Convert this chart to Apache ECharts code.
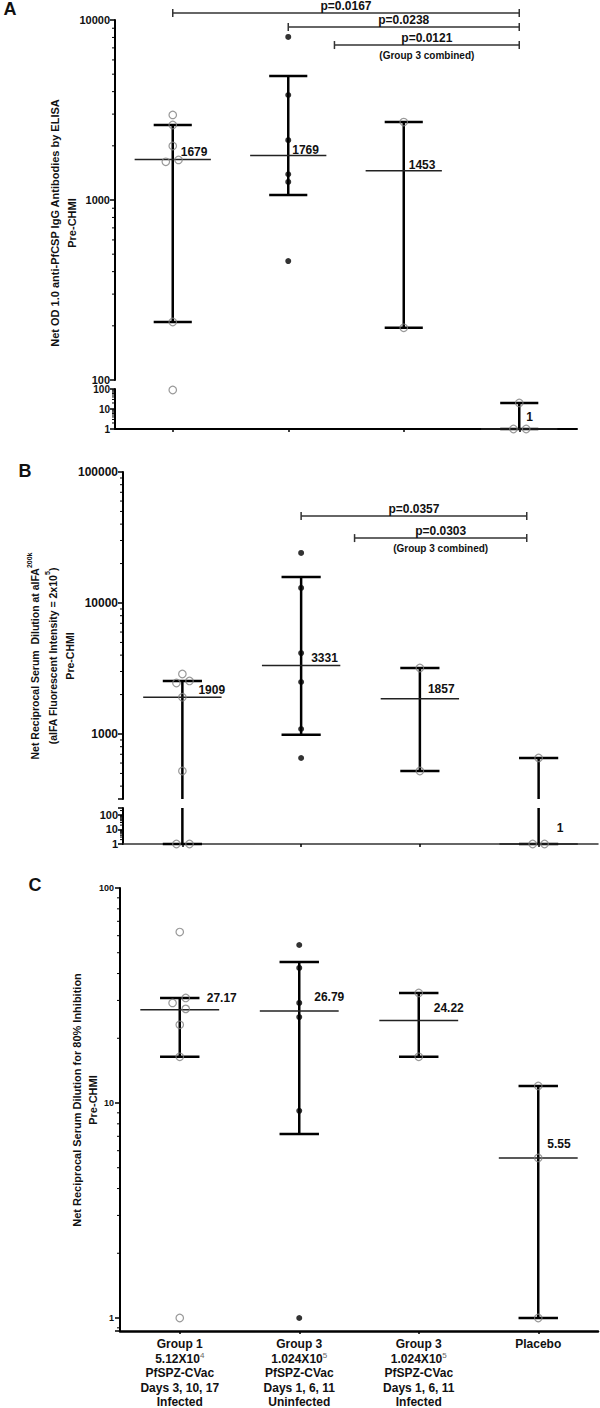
<!DOCTYPE html>
<html>
<head>
<meta charset="utf-8">
<title>Pre-CHMI antibody responses</title>
<script src="https://cdn.jsdelivr.net/npm/echarts@6.0.0/dist/echarts.min.js"></script>
<style>
html,body{margin:0;padding:0;background:#fff;}
#chart{width:600px;height:1408px;}
</style>
</head>
<body>
<div id="chart"></div>
<script>
// ================= DATA =================
const categoryX = [1, 2, 3, 4];
const categoryTitle = ['Group 1', 'Group 3', 'Group 3', 'Placebo'];
const categoryDoseBase = ['5.12X10', '1.024X10', '1.024X10', ''];
const categoryDoseExp = ['4', '5', '5', ''];
const categoryVaccine = ['PfSPZ-CVac', 'PfSPZ-CVac', 'PfSPZ-CVac', ''];
const categorySchedule = ['Days 3, 10, 17', 'Days 1, 6, 11', 'Days 1, 6, 11', ''];
const categoryOutcome = ['Infected', 'Uninfected', 'Infected', ''];

// Panel A – ELISA
const aTickLabels = [1, 10, 100, 1000, 10000];
const aGroup1 = [[1, 2970], [1, 2610], [1, 1995], [0.94, 1630], [1.05, 1670], [1, 210], [1, 89]];
const aGroup3U = [[2, 8050], [2, 3830], [2, 2150], [2, 1390], [2, 1260], [2, 458]];
const aGroup3I = [[3, 2710], [3, 195]];
const aPlacebo = [[4, 20], [3.95, 1], [4.06, 1]];
const aMedian = [1679, 1769, 1453, 1];
const aLow = [210, 1066, 195, 1];
const aHigh = [2610, 4884, 2710, 20];
const aPText = ['p=0.0167', 'p=0.0238', 'p=0.0121'];
const aPNote = ['', '', '(Group 3 combined)'];
const aPFrom = [1, 2, 2.4];
const aPTo = [4, 4, 4];
const aPLevel = [10935, 9146, 7260];

// Panel B – aIFA
const bTickLabels = [1, 10, 100, 1000, 10000, 100000];
const bGroup1 = [[1, 2870], [0.95, 2450], [1.06, 2540], [1, 1909], [1, 522], [0.95, 1], [1.06, 1]];
const bGroup3U = [[2, 24100], [2, 13030], [2, 4150], [2, 2495], [2, 1092], [2, 656]];
const bGroup3I = [[3, 3190], [3, 522]];
const bPlacebo = [[4, 657], [3.95, 1], [4.05, 1]];
const bMedian = [1909, 3331, 1857, 1];
const bLow = [1, 985, 522, 1];
const bHigh = [2540, 15780, 3190, 657];
const bPText = ['p=0.0357', 'p=0.0303'];
const bPNote = ['', '(Group 3 combined)'];
const bPFrom = [2, 2.45];
const bPTo = [3.9, 3.9];
const bPLevel = [46100, 31300];

// Panel C – inhibition
const cTickLabels = [1, 10, 100];
const cGroup1 = [[1, 62.4], [1.05, 30.8], [0.94, 29.2], [1.05, 27.4], [1, 23.1], [1, 16.4], [1, 1]];
const cGroup3U = [[2, 54.3], [2, 42.5], [2, 29.2], [2, 25.1], [2, 9.2], [2, 1]];
const cGroup3I = [[3, 32.5], [3, 16.4]];
const cPlacebo = [[4, 12], [4, 5.55], [4, 1]];
const cMedian = [27.17, 26.79, 24.22, 5.55];
const cLow = [16.4, 7.17, 16.4, 1];
const cHigh = [30.8, 45.3, 32.5, 12];

// ================= LAYOUT (pixel offsets of the median labels) =================
const aLabelOffset = [[8, -7], [4, -5], [5, -6], [7, -12]];
const bLabelOffset = [[16, -7], [10, -8], [8, -10], [18, -16]];
const cLabelOffset = [[27, -12], [15, -14], [15, -12], [9, -14]];

// ================= BUILD =================
const FONT = '"Liberation Sans", Arial, Helvetica, sans-serif';
const INK = '#111';
const grids = [], xAxes = [], yAxes = [], series = [];

function isPow10(v) { const l = Math.log10(v); return Math.abs(l - Math.round(l)) < 1e-3; }

function catLabel(v) {
  const i = Math.round(v) - 1;
  const lines = ['{b|' + categoryTitle[i] + '}'];
  if (categoryDoseBase[i]) lines.push('{b|' + categoryDoseBase[i] + '}{sup|' + categoryDoseExp[i] + '}');
  if (categoryVaccine[i]) lines.push('{b|' + categoryVaccine[i] + '}');
  if (categorySchedule[i]) lines.push('{b|' + categorySchedule[i] + '}');
  if (categoryOutcome[i]) lines.push('{b|' + categoryOutcome[i] + '}');
  return lines.join('\n');
}

function addGrid(box, yMin, yMax, o) {
  const i = grids.length;
  grids.push({ left: box[0], top: box[1], width: box[2], height: box[3], containLabel: false, outerBoundsMode: 'none' });
  xAxes.push({
    gridIndex: i, type: 'value', min: 0.5, max: 4.5, show: !!o.showX, position: 'bottom',
    axisLine: { show: !!o.showX, onZero: false, lineStyle: { color: o.xColor || '#000', width: o.xWidth || 2 } },
    axisTick: { show: !!o.showX, customValues: categoryX, length: 3, lineStyle: { color: '#000', width: 1.5 } },
    axisLabel: o.xLabels ? {
      show: true, customValues: categoryX, margin: 6, formatter: catLabel,
      rich: {
        b: { fontSize: 12, fontWeight: 'bold', fontFamily: FONT, color: INK, lineHeight: 14.5 },
        sup: { fontSize: 8, fontFamily: FONT, color: '#666', verticalAlign: 'top', lineHeight: 9 }
      }
    } : { show: false },
    splitLine: { show: false }
  });
  yAxes.push({
    gridIndex: i, type: 'log', logBase: 10, min: yMin, max: yMax, position: 'left',
    axisLine: { show: true, onZero: false, lineStyle: { color: '#000', width: 2 } },
    axisTick: { show: true, length: 5, lineStyle: { color: '#000', width: 1.5 } },
    axisLabel: {
      show: true, margin: o.labelMargin, fontSize: o.tickFont, fontWeight: 'bold', fontFamily: FONT, color: INK,
      formatter: v => (isPow10(v) && o.ticks.indexOf(Math.round(v)) >= 0) ? String(Math.round(v)) : ''
    },
    splitLine: { show: false }, minorTick: { show: false }
  });
  series.push(minorTickSeries(i, yMin, yMax));
  return i;
}

function minorTickSeries(gi, yMin, yMax) {
  const vals = [];
  for (let e = -1; e <= 5; e++) for (let k = 2; k <= 9; k++) {
    const v = k * Math.pow(10, e);
    if (v > yMin && v < yMax) vals.push([1, v]);
  }
  return {
    type: 'custom', xAxisIndex: gi, yAxisIndex: gi, clip: false, silent: true, z: 1,
    encode: { x: 0, y: 1 }, data: vals,
    renderItem: function (params, api) {
      const y = api.coord([1, api.value(1)])[1];
      const x0 = params.coordSys.x;
      return { type: 'line', shape: { x1: x0 - 3, y1: y, x2: x0, y2: y }, style: { stroke: '#000', lineWidth: 1 } };
    }
  };
}

function txt(x, y, text, font, align) {
  return { type: 'text', x: x, y: y, style: { text: text, fill: INK, font: font, align: align || 'center', textAlign: align || 'center', verticalAlign: 'middle', textVerticalAlign: 'middle' } };
}

function errorSeries(gi, yMin, yMax, med, lo, hi, lab, offsets) {
  return {
    type: 'custom', xAxisIndex: gi, yAxisIndex: gi, clip: false, silent: true, z: 2,
    encode: { x: 0, y: 1 },
    data: med.map((m, i) => [categoryX[i], m, lo[i], hi[i]]),
    renderItem: function (params, api) {
      const x = api.value(0), m = api.value(1), l = api.value(2), h = api.value(3);
      const off = offsets[params.dataIndex];
      const inR = v => v >= yMin * 0.999 && v <= yMax * 1.001;
      const py = v => api.coord([x, v])[1];
      const cx = api.coord([x, m])[0];
      const capL = api.coord([x - 0.165, m])[0], capR = api.coord([x + 0.165, m])[0];
      const medL = api.coord([x - 0.33, m])[0], medR = api.coord([x + 0.33, m])[0];
      const kids = [];
      const thick = { stroke: '#000', lineWidth: 2.5 };
      const a = Math.max(l, yMin), b = Math.min(h, yMax);
      if (a <= b) kids.push({ type: 'line', shape: { x1: cx, y1: py(a), x2: cx, y2: py(b) }, style: thick });
      if (inR(h)) kids.push({ type: 'line', shape: { x1: capL, y1: py(h), x2: capR, y2: py(h) }, style: thick });
      if (inR(l)) kids.push({ type: 'line', shape: { x1: capL, y1: py(l), x2: capR, y2: py(l) }, style: thick });
      if (inR(m)) {
        kids.push({ type: 'line', shape: { x1: medL, y1: py(m), x2: medR, y2: py(m) }, style: { stroke: '#222', lineWidth: 1.5 } });
        kids.push(txt(cx + off[0], py(m) + off[1], String(m), 'bold ' + lab.size + 'px ' + FONT, 'left'));
      }
      return { type: 'group', children: kids };
    }
  };
}

function scatterSeries(gi, pts, filled) {
  return {
    type: 'scatter', xAxisIndex: gi, yAxisIndex: gi, data: pts, clip: false, silent: true, z: 3,
    symbol: 'circle', symbolSize: filled ? 6 : 7.5,
    itemStyle: filled ? { color: '#000' } : { color: 'rgba(255,255,255,0)', borderColor: '#808080', borderWidth: 1.2 }
  };
}

function bracketSeries(gi, from, to, level, texts, notes) {
  return {
    type: 'custom', xAxisIndex: gi, yAxisIndex: gi, clip: false, silent: true, z: 2,
    encode: { x: 0, y: 1 },
    data: texts.map((t, i) => [from[i], level[i], to[i]]),
    renderItem: function (params, api) {
      const i = params.dataIndex;
      const p1 = api.coord([api.value(0), api.value(1)]);
      const p2 = api.coord([api.value(2), api.value(1)]);
      const y = p1[1], mid = (p1[0] + p2[0]) / 2;
      const st = { stroke: '#333', lineWidth: 1.5 };
      const kids = [
        { type: 'line', shape: { x1: p1[0], y1: y, x2: p2[0], y2: y }, style: st },
        { type: 'line', shape: { x1: p1[0], y1: y - 4, x2: p1[0], y2: y + 4 }, style: st },
        { type: 'line', shape: { x1: p2[0], y1: y - 4, x2: p2[0], y2: y + 4 }, style: st },
        txt(mid, y - 7, texts[i], 'bold 12px ' + FONT)
      ];
      if (notes[i]) kids.push(txt(mid, y + 10, notes[i], 'bold 10px ' + FONT));
      return { type: 'group', children: kids };
    }
  };
}

function buildPanel(P) {
  const idx = P.segments.map(s => addGrid(s.box, s.min, s.max, s));
  idx.forEach((gi, k) => {
    const s = P.segments[k];
    series.push(errorSeries(gi, s.min, s.max, P.median, P.low, P.high, P.lab, P.offsets));
    P.groups.forEach(g => {
      const pts = g.pts.filter(p => p[1] >= s.min && p[1] <= s.max);
      if (pts.length) series.push(scatterSeries(gi, pts, g.filled));
    });
  });
  if (P.brackets) series.push(bracketSeries(idx[0], P.brackets.from, P.brackets.to, P.brackets.level, P.brackets.text, P.brackets.note));
}

buildPanel({
  segments: [
    { box: [115, 20, 462, 360], min: 100, max: 10000, showX: false, ticks: aTickLabels, tickFont: 11, labelMargin: 5 },
    { box: [115, 389, 462, 40], min: 1, max: 100, showX: true, ticks: aTickLabels, tickFont: 10, labelMargin: 5, xWidth: 2 }
  ],
  groups: [{ pts: aGroup1, filled: false }, { pts: aGroup3U, filled: true }, { pts: aGroup3I, filled: false }, { pts: aPlacebo, filled: false }],
  median: aMedian, low: aLow, high: aHigh,
  lab: { size: 12 }, offsets: aLabelOffset,
  brackets: { from: aPFrom, to: aPTo, level: aPLevel, text: aPText, note: aPNote }
});

buildPanel({
  segments: [
    { box: [123, 472, 475, 327], min: 319, max: 100000, showX: false, ticks: bTickLabels, tickFont: 12, labelMargin: 5 },
    { box: [123, 808, 475, 36], min: 1, max: 300, showX: true, ticks: bTickLabels, tickFont: 11, labelMargin: 5, xWidth: 1.5, xColor: '#333' }
  ],
  groups: [{ pts: bGroup1, filled: false }, { pts: bGroup3U, filled: true }, { pts: bGroup3I, filled: false }, { pts: bPlacebo, filled: false }],
  median: bMedian, low: bLow, high: bHigh,
  lab: { size: 12 }, offsets: bLabelOffset,
  brackets: { from: bPFrom, to: bPTo, level: bPLevel, text: bPText, note: bPNote }
});

buildPanel({
  segments: [
    { box: [120, 888, 478, 443], min: 0.87, max: 100, showX: true, xLabels: true, ticks: cTickLabels, tickFont: 9, labelMargin: 6, xWidth: 2.5 }
  ],
  groups: [{ pts: cGroup1, filled: false }, { pts: cGroup3U, filled: true }, { pts: cGroup3I, filled: false }, { pts: cPlacebo, filled: false }],
  median: cMedian, low: cLow, high: cHigh,
  lab: { size: 12 }, offsets: cLabelOffset
});

function gtext(x, y, text, font, lh, rotate, rich) {
  const el = { type: 'text', x: x, y: y, silent: true,
    style: { text: text, font: font, fill: INK, align: 'center', textAlign: 'center', verticalAlign: 'middle', textVerticalAlign: 'middle', lineHeight: lh } };
  if (rotate) el.rotation = Math.PI / 2;
  if (rich) el.style.rich = rich;
  return el;
}

const supRich = { sup: { fontSize: 7, fontWeight: 'bold', fontFamily: FONT, fill: INK, color: INK, verticalAlign: 'top', lineHeight: 9 } };

const graphics = [
  gtext(10, 9, 'A', 'bold 18px ' + FONT, 20),
  gtext(25, 471, 'B', 'bold 18px ' + FONT, 20),
  gtext(35, 885, 'C', 'bold 18px ' + FONT, 20),
  gtext(63.5, 223, 'Net OD 1.0 anti-PfCSP IgG Antibodies by ELISA\nPre-CHMI', 'bold 11px ' + FONT, 17, true),
  gtext(52.5, 656, 'Net Reciprocal Serum  Dilution at aIFA{sup|200k}\n(aIFA Fluorescent Intensity = 2x10{sup|5})\nPre-CHMI', 'bold 10.5px ' + FONT, 17.5, true, supRich),
  gtext(85, 1100, 'Net Reciprocal Serum Dilution for 80% Inhibition\nPre-CHMI', 'bold 11px ' + FONT, 16, true)
];

const chart = echarts.init(document.getElementById('chart'), null, { renderer: 'svg', width: 600, height: 1408 });
chart.setOption({
  animation: false,
  backgroundColor: '#fff',
  grid: grids,
  xAxis: xAxes,
  yAxis: yAxes,
  series: series,
  graphic: graphics
});
</script>
</body>
</html>
